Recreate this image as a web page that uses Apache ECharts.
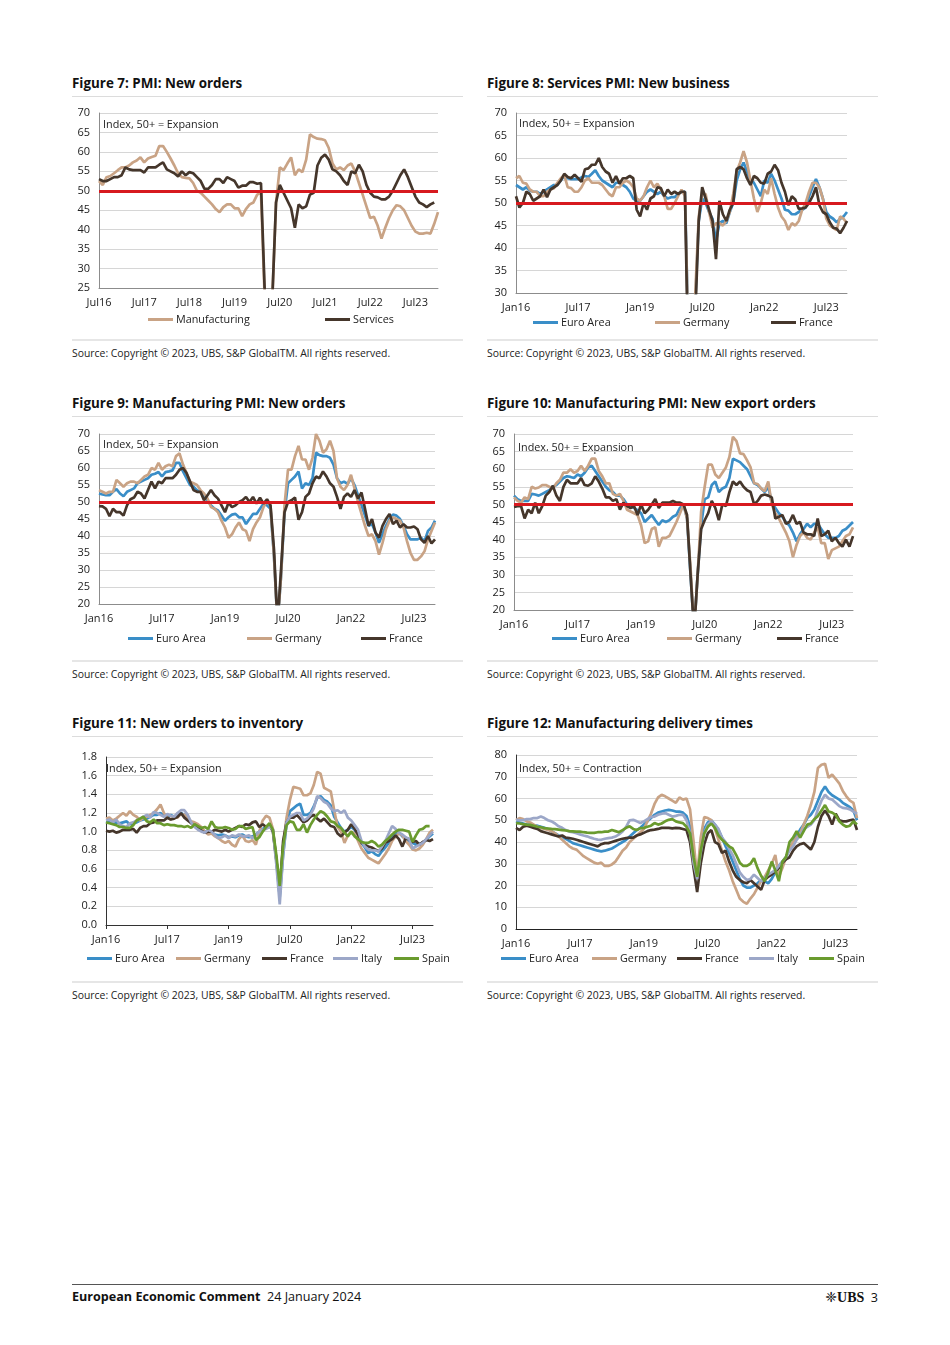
<!DOCTYPE html>
<html><head><meta charset="utf-8">
<script src="https://cdn.jsdelivr.net/npm/echarts/dist/echarts.min.js"></script>
<style>
html,body{margin:0;padding:0;background:#fff;}
body{width:950px;height:1345px;position:relative;font-family:'Open Sans',sans-serif;color:#1a1a1a;overflow:hidden;}
.title{position:absolute;font-weight:700;font-size:13.4px;line-height:16px;color:#111;white-space:nowrap;}
.rule{position:absolute;height:1px;background:#dcdcdc;}
.srule{position:absolute;height:2px;background:#e6e6e6;}
.source{position:absolute;font-size:10.4px;line-height:14px;color:#222;white-space:nowrap;}
.chart{position:absolute;width:391px;height:235px;}
.foot{position:absolute;top:1289px;font-size:12.6px;line-height:16px;color:#111;white-space:nowrap;}
</style>
</head><body>

<div class="title" style="left:72px;top:75px;">Figure 7: PMI: New orders</div>
<div class="rule" style="left:72px;top:96px;width:391px;"></div>
<div class="chart" id="c7" style="left:72px;top:100px;"></div>
<div class="srule" style="left:72px;top:339px;width:391px;"></div>
<div class="source" style="left:72px;top:346px;">Source: Copyright © 2023, UBS, S&amp;P GlobalTM. All rights reserved.</div>

<div class="title" style="left:487px;top:75px;">Figure 8: Services PMI: New business</div>
<div class="rule" style="left:487px;top:96px;width:391px;"></div>
<div class="chart" id="c8" style="left:487px;top:100px;"></div>
<div class="srule" style="left:487px;top:339px;width:391px;"></div>
<div class="source" style="left:487px;top:346px;">Source: Copyright © 2023, UBS, S&amp;P GlobalTM. All rights reserved.</div>

<div class="title" style="left:72px;top:395px;">Figure 9: Manufacturing PMI: New orders</div>
<div class="rule" style="left:72px;top:416px;width:391px;"></div>
<div class="chart" id="c9" style="left:72px;top:420px;"></div>
<div class="srule" style="left:72px;top:660px;width:391px;"></div>
<div class="source" style="left:72px;top:667px;">Source: Copyright © 2023, UBS, S&amp;P GlobalTM. All rights reserved.</div>

<div class="title" style="left:487px;top:395px;">Figure 10: Manufacturing PMI: New export orders</div>
<div class="rule" style="left:487px;top:416px;width:391px;"></div>
<div class="chart" id="c10" style="left:487px;top:420px;"></div>
<div class="srule" style="left:487px;top:660px;width:391px;"></div>
<div class="source" style="left:487px;top:667px;">Source: Copyright © 2023, UBS, S&amp;P GlobalTM. All rights reserved.</div>

<div class="title" style="left:72px;top:715px;">Figure 11: New orders to inventory</div>
<div class="rule" style="left:72px;top:736px;width:391px;"></div>
<div class="chart" id="c11" style="left:72px;top:740px;"></div>
<div class="srule" style="left:72px;top:981px;width:391px;"></div>
<div class="source" style="left:72px;top:988px;">Source: Copyright © 2023, UBS, S&amp;P GlobalTM. All rights reserved.</div>

<div class="title" style="left:487px;top:715px;">Figure 12: Manufacturing delivery times</div>
<div class="rule" style="left:487px;top:736px;width:391px;"></div>
<div class="chart" id="c12" style="left:487px;top:740px;"></div>
<div class="srule" style="left:487px;top:981px;width:391px;"></div>
<div class="source" style="left:487px;top:988px;">Source: Copyright © 2023, UBS, S&amp;P GlobalTM. All rights reserved.</div>

<div style="position:absolute;left:72px;top:1284px;width:806px;height:1px;background:#555;"></div>
<div class="foot" style="left:72px;"><b>European Economic Comment</b>&nbsp; 24 January 2024</div>
<div class="foot" style="right:72px;"><span style="font-family:'DejaVu Sans';font-size:14px;">❈</span><span style="font-family:'Liberation Serif',serif;font-weight:700;font-size:14px;">UBS</span>&nbsp; 3</div>

<script>
// ---------- categories ----------
const MONTHS = ['Jan16','Feb16','Mar16','Apr16','May16','Jun16','Jul16','Aug16','Sep16','Oct16','Nov16','Dec16',
'Jan17','Feb17','Mar17','Apr17','May17','Jun17','Jul17','Aug17','Sep17','Oct17','Nov17','Dec17',
'Jan18','Feb18','Mar18','Apr18','May18','Jun18','Jul18','Aug18','Sep18','Oct18','Nov18','Dec18',
'Jan19','Feb19','Mar19','Apr19','May19','Jun19','Jul19','Aug19','Sep19','Oct19','Nov19','Dec19',
'Jan20','Feb20','Mar20','Apr20','May20','Jun20','Jul20','Aug20','Sep20','Oct20','Nov20','Dec20',
'Jan21','Feb21','Mar21','Apr21','May21','Jun21','Jul21','Aug21','Sep21','Oct21','Nov21','Dec21',
'Jan22','Feb22','Mar22','Apr22','May22','Jun22','Jul22','Aug22','Sep22','Oct22','Nov22','Dec22',
'Jan23','Feb23','Mar23','Apr23','May23','Jun23','Jul23','Aug23','Sep23','Oct23','Nov23','Dec23','Jan24'];
const MONTHS_FIG7 = MONTHS.slice(6); // Jul16 .. Jan24

// ---------- Figure 7 ----------
const fig7Manufacturing = [52.5,51.5,53.5,53.8,54.5,55.3,56,56,56.5,57.3,
57.8,58.6,57.3,58.3,58.7,59,61.5,61.5,60,58.3,
56.5,54.5,53.5,53.3,53.2,52,50,49.5,48.5,47.5,
46.5,45.3,44.5,45.8,46.5,46.5,45.5,45.5,43.5,45.3,
46.5,47,49,49.5,22,10,22,47,56,55.3,
57,58.6,54,55.5,54.8,58,64.5,63.8,63.4,63.3,
63,61,57,55.5,56,55.3,56.5,57,55,52,
49,46,43,43.3,41,37.7,40.5,43,45,46.3,
46,45,43,41,39.5,39,39,39.2,39,41.5,
44.5];
const fig7Services = [53,52.5,52.5,53,53.5,53.5,54,56,55.5,55.3,
55.3,55.3,54.7,56,56,56,56.7,57.3,55.5,55,
54.5,53.7,55,54,54.8,54.5,53.5,52.5,50.5,50.5,
51.5,53,53,52,53.5,53,52.5,50.8,51.3,51.3,
52.2,52.2,51.8,52,24,8,22,47,51.5,49.5,
47.5,45.5,40.5,46.5,45.5,46,49,49.5,56.5,58.5,
59.3,58,55.5,55,54,52.5,51.5,55,54.5,56.7,
55,51.5,49.5,48.5,48.3,47.8,47.8,48.5,50,52,
54,55.5,53.5,51,48.5,47,46.5,45.8,46.5,47,
null];

// ---------- Figure 8 ----------
const fig8EuroArea = [54,53.5,53,53.5,52.8,52.5,52.5,52,52.5,53,
53.5,54,54,55,56,55.5,55.3,55.3,55.3,55.7,
56,55.8,56.5,57.3,56,55,54.5,54,53.5,54.5,
54.5,54,53.5,52.5,51,50.5,50.5,51.5,52.5,53,
52.5,52,52.5,51.5,51,51.3,51.3,52,52.5,52.5,
20,9,28,46,51,50,48,46.5,41.5,45.5,
46,45.5,48,50,55,57.5,59,57,55,54.5,
53,51.5,55,54.5,56.5,55,53,51,48.5,48.3,
47.5,47.5,48,48.5,49,51.5,53.5,55.3,53.5,51,
48,47,46.5,45.7,46.5,47,48];
const fig8Germany = [55.5,56,54.5,54.3,53,52.5,52.5,51.5,51.5,52.5,
53,53.3,54.5,55.5,56.2,53.5,53.3,52.5,52.5,53.5,
55,55.5,54.5,54.5,54.5,54,53,52,51.5,53.5,
53.5,54.5,55,54.5,53.5,51,50.5,51.5,53.5,55,
53.5,54.3,53,51.5,48.7,48.7,50,51.5,53,51.5,
20,9,30,47,52,52,48,44.5,45.5,45.5,
45,46,48,52,57,59,61.5,59,55,51,
48,50,53,52,55.5,52,49,47,46,44,
45.5,45,46,48.5,50,52.5,54.5,54.5,53.5,51,
46.5,45,44.5,44,47,46.5,45.5];
const fig8France = [51.5,49,50,52.5,52,50.5,51,51.5,53,51.3,
53,53.5,54,55,56.5,55.8,55.5,56.3,55.5,54.7,
57.5,57.7,58.5,58.5,60,58,57,56.5,54.5,56,
54.3,55.5,55.5,56,55.5,48.5,47,50,48.5,51,
51.5,53.5,53.3,51.5,53,52,52.5,52,52.5,52.5,
12,8,25,46,53.5,51,48.5,46,37.5,50.5,
47.5,46,48.5,50,57.5,58,57.5,55.5,54,56,
55.5,54.5,54.3,56.5,57,58.5,57.3,54.5,52.5,49.5,
51.5,50.8,48.7,48.8,49,50,51.5,53.5,49.5,48,
47.5,45.7,44.5,44.3,43.3,44.5,46];

// ---------- Figure 9 ----------
const fig9EuroArea = [52.5,52.2,52,52,53,53.8,52.5,51.7,53,53.5,
54,55.5,56,56.5,57,58,58.3,58.8,57.5,58.8,
59,59.3,61.5,61.5,59,57,55,54.5,53.5,53,
51.5,50.5,49,48,47.5,46,44.5,45.5,46.3,46.5,
45.5,45.5,43.5,45,46.5,46.5,48,49.5,49,48,
34,14,28,47,55.5,56.5,57.5,59,54,55.5,
55,57,64.5,63.8,63.5,63.5,63,61,57,55.5,
56,55.3,57,55,52,49,46,43,43.5,41,
38,40.5,43,45,46.3,46,45,43,40.5,39,
39,39,39.5,38.5,41.5,42.5,44.5];
const fig9Germany = [53.5,53,52.5,53,53,56.5,55.5,54.5,55.5,56,
56,55.5,56.5,57.5,58,60,59.5,61.5,59.5,60.5,
61,60.5,63.5,64.3,61,58.5,56,55.5,55,53.5,
52.5,51,48.5,48,47,44.5,42.5,39.5,40.5,42.5,
44,42,41.5,38.5,42,44,45.5,48.5,50.5,49,
34,14,28,49,59.5,59.5,63.5,66.5,62.5,62.5,
59.5,63,70,68,64.5,65.5,68,65,57,54.5,
53.5,55,58,54,50,46.5,43,40,40.5,38.5,
34.5,38,42,44.5,45.5,45,44.5,42.5,38.5,35,
33,33,34,35.5,39,41.5,44];
const fig9France = [48.8,48.7,48,45.8,48,47,47,46,49,50.8,
51.3,53,52.5,51,53.5,56,54,56,55.5,57,
57,57,58,59.5,60,58.5,56,53.5,53,53,
50.5,52,53.5,52,51,49,47,49.8,48.5,49,
50,50.5,51.5,50,51.5,49.5,51.3,49.5,50.8,49,
36,14,30,47,50,50.5,51.3,44.8,47,51.5,
52.5,55.5,57.5,57,59,57.5,55.5,54.5,51.5,48,
51.5,52.5,51.5,53.5,51,52.8,48,43,45,41,
39.5,43,45,46.5,43.5,44.5,42.5,43.5,42.5,42.5,
42.8,42,39,38,40,37.8,39];

// ---------- Figure 10 ----------
const fig10EuroArea = [52.5,51.5,51,51,51,53,52.8,52.5,53,53.5,
54,55,55.5,56.5,57.5,58,57.8,57.5,58.5,58,
59,60.5,61,59.5,58,56.5,55,54,53.5,52.5,
52.5,51.5,50,49.5,49,48.3,47.5,45,46,47,
45.5,44.2,45.5,45,45.5,46.5,47,49,50,46,
30,14,30,44,51.5,52,55.5,56.5,53.5,54.5,
55,57.5,63,62.5,62,61,60,58,56,55.5,
54.5,53.5,55,50.5,49,47.5,46.5,45,44,42,
39.5,41.5,43,44.5,43.5,44.5,44.5,43,41.5,40.5,
40.5,40.5,41,42.5,43,44,45];
const fig10Germany = [52,51,50.5,52,51.5,55,54.5,54.8,55.5,55.5,
55,54.5,56,57,59,59,60,59,59.5,61,
59.5,61,63,63,59.5,58,56,56,53,52.5,
53,51,48.5,48,47.5,47,44,39,39.5,43,
43.5,38,40.5,40.5,41,43,45,47.5,50,46,
32,14,30,48,55,61.3,61.3,58.5,57.5,59,
60.5,63.5,69.2,68,64.5,64.3,62.5,60.5,56,55.8,
54.5,53.8,56.5,50,47.5,46,44,42,39.5,35,
38.5,41,42,40.5,40,42,43.5,39,39,34.5,
37,37.5,38,39.5,41,41.5,43.5];
const fig10France = [49.3,49.5,49.5,46,48.5,47.5,50.5,47.5,49.5,52.5,
53.5,55.3,52.5,51,55,57,56,56,56,57.5,
55.5,55.3,56,58,56.5,54.5,52,52,51,51.5,
48.5,50.5,49.5,49,49.5,47,50,47.5,48.5,50,
51.5,49,50.5,50.5,50.5,51,50.5,50.5,50,47,
30,14,30,43,45.5,47.5,51,49,45.5,50,
49.5,53.5,56.5,55.5,56.5,55,54,53.5,50,51,
52.5,52.8,52.5,52,46,46.5,47,44.5,45,47,
44.5,45,42,41.5,41.5,41,46,41,41.5,42.5,
39.5,40.5,39,38,40,38,41];

// ---------- Figure 11 ----------
const fig11EuroArea = [1.11,1.10,1.09,1.10,1.09,1.10,1.11,1.08,1.09,1.10,
1.12,1.13,1.14,1.16,1.18,1.18,1.20,1.17,1.16,1.18,
1.16,1.17,1.20,1.18,1.14,1.10,1.06,1.04,1.02,1.00,
1.01,0.99,0.97,0.96,0.97,0.96,0.94,0.95,0.94,0.96,
0.97,0.95,0.94,0.95,0.97,1.00,1.03,1.05,1.07,1.02,
0.70,0.30,0.75,1.08,1.22,1.25,1.28,1.30,1.18,1.18,
1.20,1.27,1.36,1.38,1.34,1.32,1.28,1.16,1.10,1.04,
1.00,1.02,1.05,1.02,0.95,0.88,0.83,0.77,0.79,0.76,
0.74,0.79,0.83,0.88,0.95,0.98,0.99,0.95,0.92,0.90,
0.88,0.86,0.87,0.88,0.91,0.95,0.98];
const fig11Germany = [1.14,1.15,1.12,1.14,1.17,1.20,1.17,1.22,1.18,1.16,
1.12,1.15,1.16,1.18,1.20,1.24,1.29,1.20,1.15,1.13,
1.16,1.15,1.19,1.18,1.14,1.11,1.10,1.08,1.05,1.00,
0.97,0.98,0.95,0.93,0.90,0.88,0.90,0.86,0.84,0.92,
0.96,0.90,0.89,0.91,0.86,1.00,1.12,1.17,1.15,1.03,
0.70,0.35,0.85,1.15,1.34,1.48,1.47,1.46,1.39,1.39,
1.41,1.50,1.64,1.62,1.47,1.45,1.43,1.23,1.05,1.00,
0.88,0.96,1.00,0.98,0.90,0.82,0.77,0.72,0.70,0.68,
0.66,0.71,0.76,0.82,0.90,0.95,0.98,0.96,0.90,0.86,
0.81,0.80,0.82,0.86,0.92,0.99,1.02];
const fig11France = [1.01,1.00,1.01,0.99,1.00,1.02,1.02,1.02,1.03,0.99,
1.04,1.06,1.06,1.09,1.10,1.12,1.12,1.12,1.15,1.13,
1.14,1.16,1.20,1.15,1.12,1.09,1.06,1.04,1.01,0.99,
1.00,1.00,1.02,1.01,1.00,1.02,1.00,1.02,1.04,1.06,
1.05,1.08,1.07,1.10,1.11,1.05,1.08,1.05,1.07,1.00,
0.70,0.35,0.90,1.10,1.15,1.15,1.18,1.14,1.10,1.12,
1.16,1.18,1.14,1.11,1.14,1.10,1.06,1.05,0.98,0.95,
0.99,1.02,1.08,1.03,0.97,0.88,0.86,0.84,0.83,0.81,
0.79,0.82,0.88,0.90,0.92,0.96,0.92,0.84,0.93,0.92,
0.89,0.90,0.86,0.89,0.91,0.90,0.92];
const fig11Italy = [1.12,1.13,1.10,1.13,1.08,1.06,1.05,1.09,1.10,1.12,
1.14,1.16,1.18,1.15,1.21,1.20,1.18,1.16,1.19,1.17,
1.16,1.20,1.23,1.23,1.18,1.10,1.05,1.02,1.00,0.99,
1.02,1.00,0.96,0.93,0.94,0.96,0.93,0.96,0.95,0.97,
0.95,0.95,0.96,0.93,0.97,1.00,1.02,1.03,1.05,1.02,
0.65,0.22,0.75,1.10,1.16,1.18,1.20,1.20,1.12,1.14,
1.18,1.25,1.38,1.36,1.32,1.30,1.25,1.22,1.23,1.20,
1.23,1.15,1.12,1.07,1.02,0.90,0.84,0.81,0.80,0.80,
0.79,0.84,0.90,0.98,1.06,1.03,0.99,0.97,0.94,0.92,
0.82,0.84,0.86,0.88,0.92,0.96,1.00];
const fig11Spain = [1.10,1.09,1.08,1.07,1.05,1.05,1.04,1.04,1.07,1.12,
1.14,1.16,1.11,1.10,1.13,1.09,1.09,1.07,1.08,1.07,
1.07,1.06,1.06,1.05,1.06,1.04,1.08,1.06,1.04,1.05,
1.03,1.11,1.05,1.04,1.04,1.05,1.04,1.02,1.03,1.06,
1.06,1.03,1.04,1.05,0.91,0.94,1.00,1.05,1.09,1.02,
0.75,0.42,0.85,1.07,1.11,1.10,1.02,1.02,1.08,0.99,
1.07,1.13,1.18,1.22,1.20,1.16,1.11,1.10,1.06,1.04,
0.99,0.95,1.00,0.95,0.92,0.89,0.88,0.88,0.90,0.88,
0.84,0.86,0.90,0.93,0.97,1.00,1.02,1.02,1.01,1.00,
0.89,0.96,1.02,1.03,1.06,1.06,null];

// ---------- Figure 12 ----------
const fig12EuroArea = [49.5,49,48.5,48,48,47.5,47.5,47,46.5,46,
45,44,43,42.5,41.5,40.5,39.5,39,38.5,38,
37.5,37,36.5,36,35.7,36,36.5,37,38,39,
40,41,42.5,44,45.5,46.5,48,49.5,51,52.5,
53.5,54,54.5,54.8,54.5,54,54,53.5,52,47,
35,24,38,46,49,50,48,45.5,42,38,
35,31,27,23,20,19,19,20,21,22.5,
22,21,23,26,29,31,33,37,40,43,
45.7,48,51,52.5,55,59,63,65.5,63,61.5,
60.5,59.5,58,57,56,54.5,50];
const fig12Germany = [50,51,50.5,49.5,49,48,47,46.5,46,45.5,
45,44,42.5,41,39.5,38,37,36.5,35,33.5,
32.5,31.5,30.5,30,30.5,29,29,29.7,31,33.5,
36,37.5,40,41.5,43,44.5,46,49.5,53,57.5,
60.5,61.7,61,60,59,58,60.5,59.5,60,55,
40,24,42,51.5,51,50,46,41,36,31,
27,22,18,14,12.5,11.6,14,16,19,22,
24,27,30,34,24,28,33,37,40,42,
44,48,52,57,63,74,75.5,76,69.5,71,
69,67,63.5,61,59,58,51];
const fig12France = [46.5,45.5,47,47.5,47,46.5,46,45,44.5,44,
43.5,43,42.5,43,42,41.8,41.5,41,40.5,40,
39.5,39,38.5,38,39,39.5,39.5,40,40.5,41,
41.5,41.8,42,42,43,43.5,44.2,45,45.5,45.7,
46,46.5,46.5,46.5,46.3,46.5,46.4,46,45.5,40,
28,17,30,39,44,45.5,40,39,35,36,
31,27,24,22.5,21.5,21,22.5,21,19.5,18,
22.5,24,25,26.5,28,30.5,32,33,36,38,
39,39.5,38,36.5,40,47,52,54.5,52,48,
53,50,49.5,49.5,50,50.3,45.5];
const fig12Italy = [50.2,50,50,50.5,50.5,51,51,51.7,51,50,
49.5,48.5,47.2,46.5,45.5,44.8,44.5,44,43.5,43,
42.6,42,41.5,41.1,41,41.5,41.8,42,42.5,43.5,
44.8,47,50,50.2,49.5,48.7,49.5,50.5,51.5,51.7,
52.5,53,53.3,52.5,51.7,52,52.5,52.5,50,44,
30,23,35,44,48,49.5,48,46,42,40,
37,34,30,26,24,22.5,23,25,23.5,22,
23.5,25,26,27,29,31,33,36,38,41,
43,46,47,48,50,55,59,61.7,60,59.5,
58,56.5,55.7,55.5,55,54,53];
const fig12Spain = [48.7,48.5,48.2,48,47.9,47.5,47,46.8,46.4,46.2,
46,45.9,45.7,45.5,45.3,45,44.9,44.8,44.8,44.5,
44.3,44.2,44.2,44.5,44.5,44.8,44.8,45.5,45,44.5,
45.5,46.5,47.2,46,45.5,46.4,46.5,47,47.5,48.7,
48,48.5,49.5,50.2,50.5,49.5,49,48.7,47,44,
33,24,36,44,47,48.5,46.5,43,41,39.5,
38,37,34,30.5,29,29,30,32.5,28,24.5,
22,26,31,27,22,31,33,40,42,45,
42,45,48,48.5,50.5,52,54.5,57,54,53.5,
52.5,49.5,48,47,47.5,49.5,48];

// ---------- colours ----------
const C_EA = '#3a8ec8', C_DE = '#c9a385', C_FR = '#45362b', C_IT = '#9ca7c8', C_ES = '#6a9b2e', C_RED = '#d7191f';
const FONT = "'Open Sans', sans-serif";

function build(id, cfg) {
  const chart = echarts.init(document.getElementById(id), null, {renderer: 'canvas'});
  const series = cfg.series.map((s, k) => {
    const o = {
      name: s.name, type: 'line', data: s.data, symbol: 'none', showSymbol: false,
      smooth: false, clip: true, z: 2 + k, connectNulls: false,
      lineStyle: {width: 2.7, color: s.color}, itemStyle: {color: s.color},
      emphasis: {disabled: true}
    };
    if (cfg.redLine && k === cfg.series.length - 1) {
      o.markLine = {silent: true, symbol: 'none', label: {show: false},
        lineStyle: {color: C_RED, width: 3, type: 'solid'}, data: [{yAxis: 50}]};
    }
    return o;
  });
  const legends = cfg.series.map((s, k) => ({
    data: [s.name], left: cfg.legendX[k], top: cfg.legendY + 2,
    icon: 'rect', itemWidth: 25, itemHeight: 3, itemGap: 0, padding: 0,
    selectedMode: false,
    textStyle: {fontFamily: FONT, fontSize: 10.8, color: '#222', padding: [0, 0, 0, -2]}
  }));
  chart.setOption({
    animation: false,
    textStyle: {fontFamily: FONT},
    grid: {left: cfg.grid[0], top: cfg.grid[1], width: cfg.grid[2], height: cfg.grid[3], containLabel: false},
    legend: legends,
    graphic: [{type: 'text', left: cfg.note[1], top: cfg.note[2] + 2, silent: true,
      style: {text: cfg.note[0], fontFamily: FONT, fontSize: 10.8, fill: '#222'}}],
    xAxis: {
      type: 'category', data: cfg.cats, boundaryGap: false,
      axisLine: {show: true, lineStyle: {color: cfg.xAxisColor, width: 1}},
      axisTick: cfg.ticks ? {show: true, interval: cfg.labelInterval, length: 4, lineStyle: {color: cfg.xAxisColor}} : {show: false},
      axisLabel: {interval: cfg.labelInterval,
        color: '#222', fontSize: 11, fontFamily: FONT, margin: 9},
      splitLine: {show: false}
    },
    yAxis: {
      type: 'value', min: cfg.y[0], max: cfg.y[1], interval: cfg.y[2],
      axisLine: {show: true, lineStyle: {color: cfg.yAxisColor, width: 1}},
      axisTick: {show: false},
      axisLabel: {color: '#222', fontSize: 11, fontFamily: FONT, margin: 9,
        formatter: cfg.yFmt || (v => String(v))},
      splitLine: {show: true, lineStyle: {color: '#d6d6d6', width: 1}}
    },
    series: series
  });
}

build('c7', {
  cats: MONTHS_FIG7, labelInterval: 11, grid: [27, 13, 339, 175], y: [25, 70, 5], redLine: true,
  xAxisColor: '#8c8c8c', yAxisColor: '#8c8c8c',
  note: ['Index, 50+ = Expansion', 31, 17],
  legendY: 212, legendX: [76, 253],
  series: [{name: 'Manufacturing', data: fig7Manufacturing, color: C_DE},
           {name: 'Services', data: fig7Services, color: C_FR}]
});
build('c8', {
  cats: MONTHS, labelInterval: 17, grid: [29, 13, 331, 180], y: [30, 70, 5], redLine: true,
  xAxisColor: '#8c8c8c', yAxisColor: '#8c8c8c',
  note: ['Index, 50+ = Expansion', 32, 16],
  legendY: 215, legendX: [46, 168, 284],
  series: [{name: 'Euro Area', data: fig8EuroArea, color: C_EA},
           {name: 'Germany', data: fig8Germany, color: C_DE},
           {name: 'France', data: fig8France, color: C_FR}]
});
build('c9', {
  cats: MONTHS, labelInterval: 17, grid: [27, 14, 336, 170], y: [20, 70, 5], redLine: true,
  xAxisColor: '#8c8c8c', yAxisColor: '#8c8c8c',
  note: ['Index, 50+ = Expansion', 31, 17],
  legendY: 211, legendX: [56, 175, 289],
  series: [{name: 'Euro Area', data: fig9EuroArea, color: C_EA},
           {name: 'Germany', data: fig9Germany, color: C_DE},
           {name: 'France', data: fig9France, color: C_FR}]
});
build('c10', {
  cats: MONTHS, labelInterval: 17, grid: [27, 14, 339, 176], y: [20, 70, 5], redLine: true,
  xAxisColor: '#8c8c8c', yAxisColor: '#8c8c8c',
  note: ['Index, 50+ = Expansion', 31, 20],
  legendY: 211, legendX: [65, 180, 290],
  series: [{name: 'Euro Area', data: fig10EuroArea, color: C_EA},
           {name: 'Germany', data: fig10Germany, color: C_DE},
           {name: 'France', data: fig10France, color: C_FR}]
});
build('c11', {
  cats: MONTHS, labelInterval: 17, grid: [34, 17, 327, 168], y: [0, 1.8, 0.2], redLine: false,
  xAxisColor: '#333', yAxisColor: '#333', ticks: true,
  yFmt: v => v.toFixed(1),
  note: ['Index, 50+ = Expansion', 34, 21],
  legendY: 211, legendX: [15, 104, 190, 261, 322],
  series: [{name: 'Euro Area', data: fig11EuroArea, color: C_EA},
           {name: 'Germany', data: fig11Germany, color: C_DE},
           {name: 'France', data: fig11France, color: C_FR},
           {name: 'Italy', data: fig11Italy, color: C_IT},
           {name: 'Spain', data: fig11Spain, color: C_ES}]
});
build('c12', {
  cats: MONTHS, labelInterval: 17, grid: [29, 15, 341, 174], y: [0, 80, 10], redLine: false,
  xAxisColor: '#222', yAxisColor: '#333',
  note: ['Index, 50+ = Contraction', 32, 21],
  legendY: 211, legendX: [14, 105, 190, 262, 322],
  series: [{name: 'Euro Area', data: fig12EuroArea, color: C_EA},
           {name: 'Germany', data: fig12Germany, color: C_DE},
           {name: 'France', data: fig12France, color: C_FR},
           {name: 'Italy', data: fig12Italy, color: C_IT},
           {name: 'Spain', data: fig12Spain, color: C_ES}]
});
</script>
</body></html>
